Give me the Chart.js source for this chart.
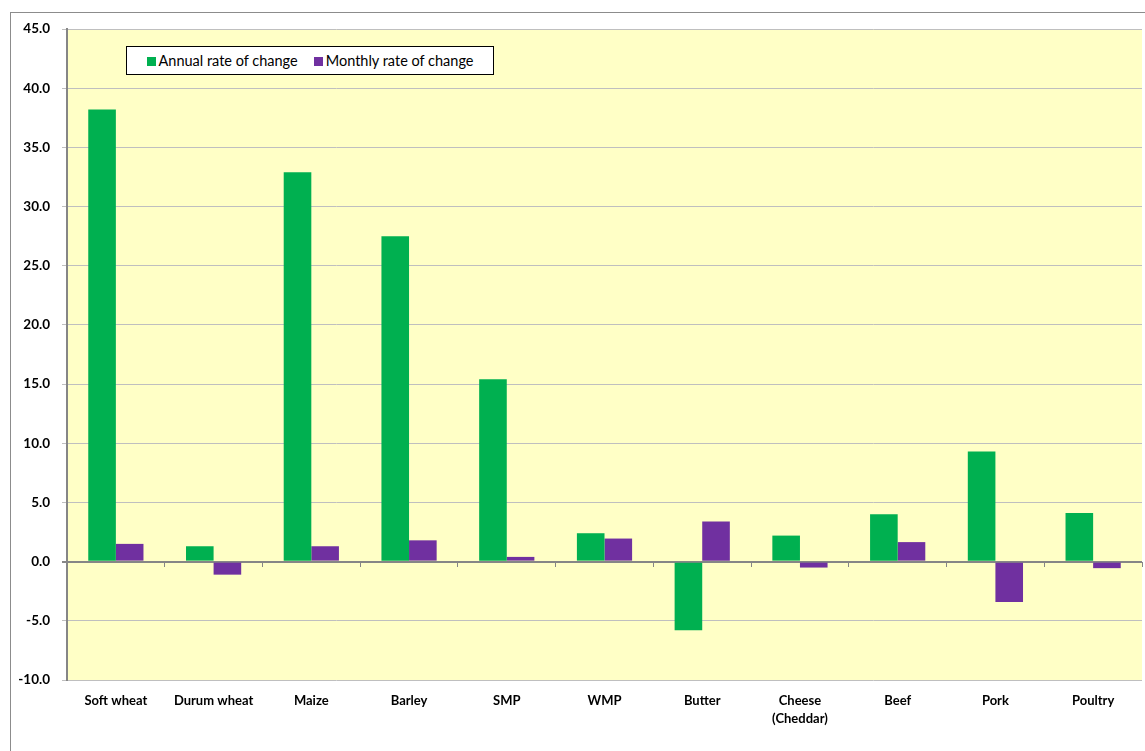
<!DOCTYPE html>
<html>
<head>
<meta charset="utf-8">
<script src="https://cdn.jsdelivr.net/npm/chart.js@4.4.1/dist/chart.umd.min.js"></script>
<style>
  html, body { margin: 0; padding: 0; background: #fff; overflow: hidden; }
  #wrap { position: relative; width: 1145px; height: 751px; }
  #frame { position: absolute; left: 10px; top: 12px; width: 1200px; height: 800px; border: 1px solid #8c8c8c; }
  #legend {
    position: absolute; left: 126px; top: 46px; width: 366px; height: 27px;
    border: 1px solid #000; background: #fff;
    display: flex; align-items: center; justify-content: center; gap: 16px;
    font-family: Lato, "Open Sans", sans-serif; font-size: 14.5px; color: #000;
  }
  #legend span.sw { display: inline-block; width: 9px; height: 9px; margin-right: 3px; }
</style>
</head>
<body>
<div id="wrap">
  <div id="frame"></div>
  <canvas id="chart" width="1145" height="751"></canvas>
  <div id="legend"></div>
</div>
<script>
const categories = ['Soft wheat', 'Durum wheat', 'Maize', 'Barley', 'SMP', 'WMP', 'Butter',
  ['Cheese', '(Cheddar)'], 'Beef', 'Pork', 'Poultry'];
const annualChange = [38.2, 1.3, 32.9, 27.5, 15.4, 2.4, -5.8, 2.2, 4.0, 9.3, 4.1];
const monthlyChange = [1.5, -1.1, 1.3, 1.8, 0.4, 1.95, 3.4, -0.5, 1.65, -3.4, -0.55];
const yTicks = { min: -10, max: 45, step: 5 };

const GREEN = '#00B050';
const PURPLE = '#7030A0';
const AXIS = '#868686';

// yellow plot area
const plotBg = {
  id: 'plotBg',
  beforeDraw(chart) {
    const { ctx, chartArea: a } = chart;
    ctx.save();
    ctx.fillStyle = '#FFFFC6';
    ctx.fillRect(a.left, a.top, a.right - a.left, a.bottom - a.top);
    ctx.restore();
  }
};

const chart = new Chart(document.getElementById('chart'), {
  type: 'bar',
  data: {
    labels: categories,
    datasets: [
      { label: 'Annual rate of change', data: annualChange, backgroundColor: GREEN },
      { label: 'Monthly rate of change', data: monthlyChange, backgroundColor: PURPLE }
    ]
  },
  options: {
    responsive: false,
    animation: false,
    devicePixelRatio: 1,
    categoryPercentage: 0.565,
    barPercentage: 1,
    layout: { padding: { top: 29, right: 3, left: 0, bottom: 0 } },
    plugins: {
      legend: { display: false },
      tooltip: { enabled: false }
    },
    scales: {
      x: {
        grid: { display: false },
        border: { display: false },
        ticks: {
          color: '#000',
          padding: 3,
          maxRotation: 0,
          autoSkip: false,
          font: { family: 'Lato', size: 13, weight: 'bold', lineHeight: 1.45 }
        },
        afterFit(scale) { scale.height = 71; }
      },
      x0: {
        type: 'category',
        labels: categories,
        position: { y: 0 },
        offset: true,
        grid: { drawOnChartArea: false, drawTicks: true, tickLength: 5, offset: true, color: AXIS, lineWidth: 1 },
        border: { display: false },
        ticks: { display: false }
      },
      y: {
        min: yTicks.min,
        max: yTicks.max,
        ticks: {
          stepSize: yTicks.step,
          color: '#000',
          padding: 12,
          font: { family: 'Lato', size: 13.5, weight: 'bold' },
          callback: v => v.toFixed(1)
        },
        grid: {
          tickLength: 5,
          color: c => c.tick && c.tick.value === 0 ? AXIS : '#BFBFBF',
          lineWidth: c => c.tick && c.tick.value === 0 ? 2 : 1
        },
        border: { color: AXIS, width: 2 },
        afterFit(scale) { scale.width = 67; }
      }
    }
  },
  plugins: [plotBg]
});

// legend box drawn inside the plot, like the original
const legendEl = document.getElementById('legend');
chart.data.datasets.forEach(ds => {
  const item = document.createElement('div');
  item.innerHTML = '<span class="sw" style="background:' + ds.backgroundColor + '"></span>' + ds.label;
  legendEl.appendChild(item);
});
</script>
</body>
</html>
